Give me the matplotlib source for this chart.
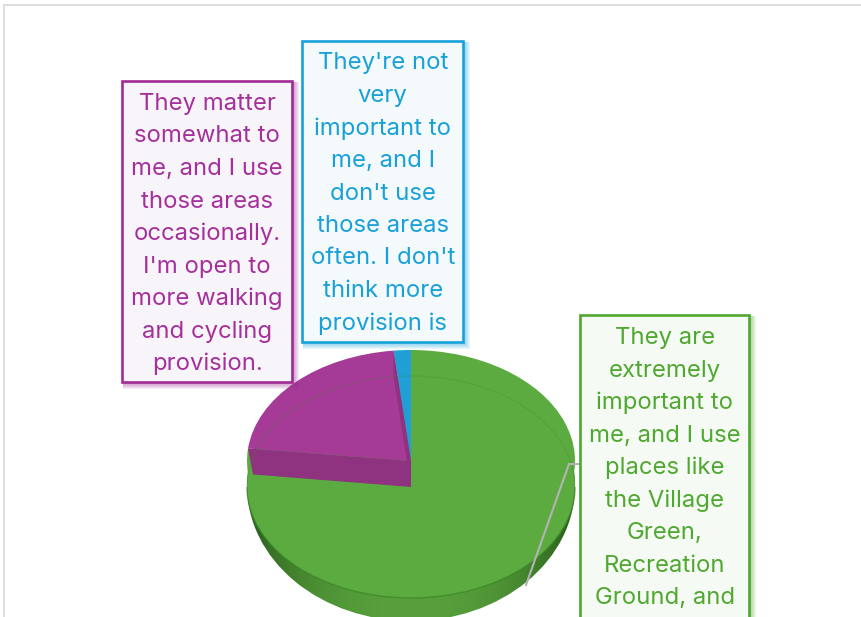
import numpy as np
import matplotlib
matplotlib.use("Agg")
import matplotlib.pyplot as plt
from matplotlib.patches import Rectangle, Polygon, Ellipse, Arc
from matplotlib.transforms import Affine2D

# data
categories = ["extremely important", "matter somewhat", "not very important"]
values = [76.8, 21.5, 1.7]
labels = [
    ["They are", "extremely", "important to", "me, and I use", "places like", "the Village", "Green,",
     "Recreation", "Ground, and"],
    ["They matter", "somewhat to", "me, and I use", "those areas", "occasionally.", "I'm open to",
     "more walking", "and cycling", "provision."],
    ["They're not", "very", "important to", "me, and I", "don't use", "those areas", "often. I don't",
     "think more", "provision is"],
]

W, H = 862, 617
GREEN, PURPLE, BLUE = "#5bab40", "#a53b96", "#1f9fd6"
TXT = ["#4fa82f", "#a5309c", "#18a0d8"]
EDGE = ["#4ea72e", "#a02b93", "#17a2dc"]
FILL = ["#f6faf5", "#f8f5fa", "#f4f9fc"]
BOX = [(580.5, 315, 169, 320), (122.5, 81, 169.5, 300.5), (302.5, 41, 160.5, 300.5)]
FIRST = [338, 104, 63.5]
STEP = 32.5
CX, RX = 411, 164
Y_TOP, Y_MID = 461, 487
RY = 111
FONT = "Inter"

fig = plt.figure(figsize=(W / 100, H / 100), dpi=100)
ax = fig.add_axes([0, 0, 1, 1])


def pie_layer(cy, colors, z):
    wedges, _ = ax.pie(values, startangle=90, counterclock=False, colors=colors,
                       wedgeprops=dict(linewidth=0, zorder=z))
    for w in wedges:
        w.set_transform(Affine2D().scale(RX, -RY).translate(CX, cy) + ax.transData)
    return wedges


def rim(frac, cy, rx=RX):
    a = np.pi / 2 - 2 * np.pi * frac
    return (CX + rx * np.cos(a), cy - RY * np.sin(a))


fr = np.cumsum(values) / np.sum(values)

# dark side with a horizontal gradient, clipped to the lower outline
clip = Ellipse((CX, 486), 328, 270, fc="none", lw=0, transform=ax.transData)
ax.add_patch(clip)
grad = np.clip(np.abs(np.linspace(-1, 1, 256)) * 1.08, 0, 1) ** 2.5
c0, c1 = np.array([0x57, 0xa0, 0x3c]) / 255, np.array([0x2f, 0x66, 0x20]) / 255
img = c0 + (c1 - c0) * grad[:, None]
im = ax.imshow(img[None, :, :], extent=(CX - RX - 2, CX + RX + 2, 625, 400), aspect="auto", zorder=1)
im.set_clip_path(clip)

# top surface layers
pie_layer(Y_MID, [GREEN, GREEN, GREEN], 1.2)
pie_layer(Y_TOP, [GREEN, PURPLE, BLUE], 1.3)

# slice walls
WALL = "#8f327f"
for f, low in ((fr[0], RX - 5), (fr[1], RX)):
    p = [rim(f, Y_TOP), (CX, Y_TOP), (CX, Y_MID), rim(f, Y_MID, low)]
    ax.add_patch(Polygon(p, closed=True, fc=WALL, ec="none", zorder=1.4))

# faint rim outlines
ax.add_patch(Arc((CX, Y_MID), 2 * RX, 2 * RY, theta1=180, theta2=360, ec="#3f8a2a", lw=0.8, alpha=0.25, zorder=1.5))
ax.add_patch(Arc((CX, Y_MID), 2 * RX, 2 * RY, theta1=0, theta2=180, ec="#3a8426", lw=1, alpha=0.7, zorder=1.5))

# leader line
ax.plot([581, 569, 526], [464, 464, 585], color="#b3b3b3", lw=1.5, zorder=2, solid_joinstyle="miter")

# label boxes
for lines, tc, ec, fc, (x, y, w, h), y0 in zip(labels, TXT, EDGE, FILL, BOX, FIRST):
    for k in range(1, 7):
        ax.add_patch(Rectangle((x + 1, y + 1), w + k, h + k, fc=ec, ec="none", alpha=0.09, zorder=3))
    ax.add_patch(Rectangle((x, y), w, h, fc=fc, ec=ec, lw=1.9, zorder=4))
    for i, s in enumerate(lines):
        ax.text(x + w / 2, y0 + i * STEP, s, color=tc, ha="center", va="center", fontsize=17.2,
                family=FONT, zorder=5)

# outer chart frame
ax.plot([4.5, 4.5, W], [H, 4.5, 4.5], color="#dedede", lw=1.4, zorder=6, solid_joinstyle="miter")

ax.set_aspect("auto")
ax.set_xlim(0, W)
ax.set_ylim(H, 0)
ax.axis("off")
fig.savefig("out.png", dpi=100, facecolor="white")
